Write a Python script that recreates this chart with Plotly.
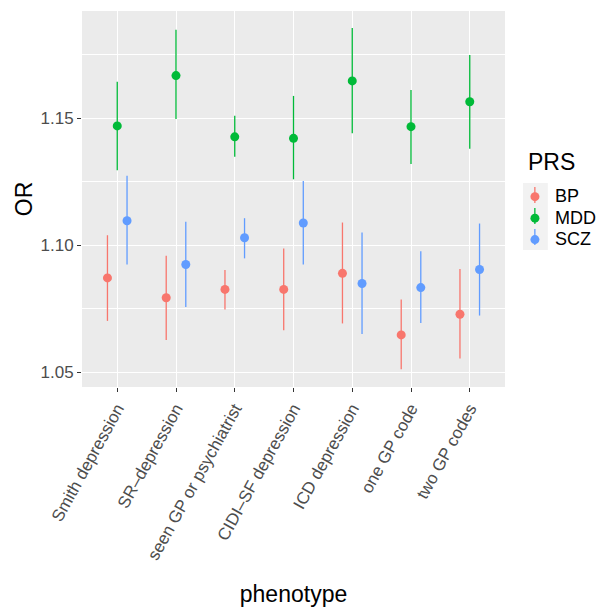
import plotly.graph_objects as go

phenotypes = ["Smith depression", "SR\u2013depression", "seen GP or psychiatrist",
              "CIDI\u2013SF depression", "ICD depression", "one GP code", "two GP codes"]
prs_groups = ["BP", "MDD", "SCZ"]

or_bp = [1.0871, 1.0793, 1.0826, 1.0826, 1.0889, 1.0647, 1.0728]
lo_bp = [1.0702, 1.0627, 1.0747, 1.0665, 1.0692, 1.0512, 1.0554]
hi_bp = [1.1039, 1.0958, 1.0902, 1.0987, 1.1089, 1.0786, 1.0906]

or_mdd = [1.1469, 1.1667, 1.1426, 1.1420, 1.1646, 1.1466, 1.1564]
lo_mdd = [1.1295, 1.1496, 1.1348, 1.1259, 1.1440, 1.1319, 1.1379]
hi_mdd = [1.1643, 1.1847, 1.1509, 1.1587, 1.1854, 1.1610, 1.1748]

or_scz = [1.1096, 1.0924, 1.1029, 1.1087, 1.0849, 1.0833, 1.0904]
lo_scz = [1.0924, 1.0757, 1.0948, 1.0924, 1.0650, 1.0694, 1.0723]
hi_scz = [1.1273, 1.1092, 1.1106, 1.1252, 1.1050, 1.0976, 1.1085]

colors = {"BP": "#F8766D", "MDD": "#00BA38", "SCZ": "#619CFF"}
series = {
    "BP": (or_bp, lo_bp, hi_bp),
    "MDD": (or_mdd, lo_mdd, hi_mdd),
    "SCZ": (or_scz, lo_scz, hi_scz),
}

fig = go.Figure()
for name in prs_groups:
    y, lo, hi = series[name]
    col = colors[name]
    fig.add_trace(go.Scatter(
        x=phenotypes, y=y, name="<span style='font-size:18px'>%s</span>" % name,
        mode="markers", offsetgroup=name,
        marker=dict(color=col, size=9),
        error_y=dict(type="data", symmetric=False,
                     array=[h - v for h, v in zip(hi, y)],
                     arrayminus=[v - l for v, l in zip(y, lo)],
                     color=col, thickness=1.3, width=0),
    ))

# legend key background and vertical key lines (ggplot pointrange key look)
key_x0, key_x1, key_xc = 1.0424, 1.1012, 1.0706
key_box = (0.3644, 0.5426)
key_segs = [(0.4894, 0.5319), (0.4335, 0.4761), (0.3777, 0.4202)]
shapes = [dict(type="rect", xref="paper", yref="paper", x0=key_x0, x1=key_x1,
               y0=key_box[0], y1=key_box[1], fillcolor="#F2F2F2",
               line=dict(width=0), layer="below")]
for (s0, s1), name in zip(key_segs, prs_groups):
    shapes.append(dict(type="line", xref="paper", yref="paper", x0=key_xc, x1=key_xc,
                       y0=s0, y1=s1, line=dict(color=colors[name], width=1.3)))

font = "Liberation Sans, Arial, sans-serif"
fig.update_layout(
    width=596, height=599,
    margin=dict(l=74, r=97, t=3, b=220),
    paper_bgcolor="white", plot_bgcolor="#EBEBEB",
    scattermode="group", scattergap=0.5,
    font=dict(family=font, color="black"),
    legend=dict(font=dict(size=14.2, color="black"),
                x=1.0235, y=0.548, xanchor="left", yanchor="top",
                bgcolor="rgba(0,0,0,0)", itemwidth=30),
    showlegend=True,
    shapes=shapes,
    annotations=[dict(text="PRS", xref="paper", yref="paper", x=1.0494, y=0.5984,
                      xanchor="left", yanchor="middle", showarrow=False,
                      font=dict(size=23, color="black"))],
)
fig.update_xaxes(
    range=[-0.6, 6.6], showgrid=True, gridcolor="white", gridwidth=1.1,
    ticks="outside", ticklen=4, tickcolor="#333333", tickwidth=1,
    tickangle=-61, tickfont=dict(size=17, color="#4D4D4D", family=font),
    title=dict(text="phenotype", font=dict(size=23, color="black"), standoff=23),
    zeroline=False, showline=False,
)
fig.update_yaxes(
    range=[1.0442, 1.1921], tick0=1.05, dtick=0.05, tickformat=".2f",
    showgrid=True, gridcolor="white", gridwidth=1.1,
    minor=dict(tick0=1.025, dtick=0.05, showgrid=True, gridcolor="white", gridwidth=0.5),
    ticks="outside", ticklen=4, tickcolor="#333333", tickwidth=1,
    tickfont=dict(size=17, color="#4D4D4D", family=font),
    title=dict(text="OR", font=dict(size=23, color="black"), standoff=1),
    zeroline=False, showline=False,
)
fig.write_html("out.html")
